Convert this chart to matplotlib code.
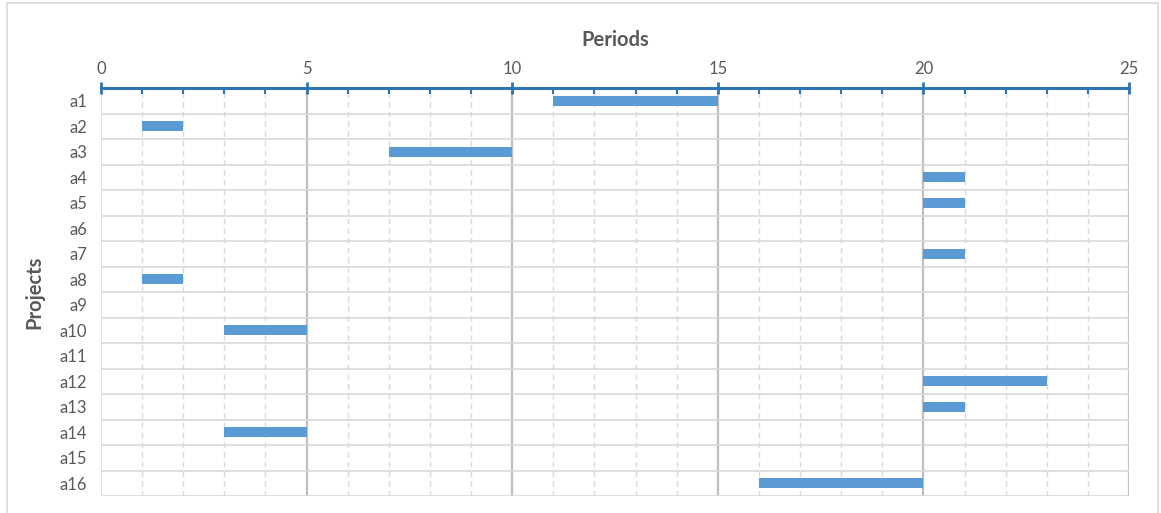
import matplotlib.pyplot as plt
from matplotlib.patches import Rectangle

plt.rcParams['font.family'] = ['Lato', 'DejaVu Sans']

# project names and their start / end periods (None = no bar)
projects = ['a1', 'a2', 'a3', 'a4', 'a5', 'a6', 'a7', 'a8',
            'a9', 'a10', 'a11', 'a12', 'a13', 'a14', 'a15', 'a16']
starts = [11, 1, 7, 20, 20, None, 20, 1, None, 3, None, 20, 20, 3, None, 16]
ends = [15, 2, 10, 21, 21, None, 21, 2, None, 5, None, 23, 21, 5, None, 20]

major_ticks = [0, 5, 10, 15, 20, 25]

text_col = '#595959'
bar_col = '#5b9bd5'
axis_col = '#2e75b6'

fig = plt.figure(figsize=(11.61, 5.13), dpi=100)
ax = fig.add_axes([101 / 1161, 1 - 496 / 513, 1028 / 1161, 408 / 513])

# outer chart border
fig.patches.append(Rectangle((6.5 / 1161, -0.01), 1151 / 1161, 1 - 2.5 / 513 + 0.01,
                             transform=fig.transFigure, fill=False,
                             edgecolor='#d9d9d9', linewidth=1.2))

n = len(projects)
ypos = list(range(n))

# gridlines
for i in range(1, 26):
    if i % 5 == 0:
        ax.axvline(i, color='#bfbfbf', linewidth=1.6, zorder=1)
    else:
        ax.axvline(i, color='#d9d9d9', linewidth=1, linestyle=(0, (4, 3)), zorder=1)
for k in range(n + 1):
    ax.axhline(k - 0.5, color='#d9d9d9', linewidth=1.2, zorder=1)
ax.axvline(0, color='#d9d9d9', linewidth=1.2, zorder=1)

# bars
for y, s, e in zip(ypos, starts, ends):
    if s is None:
        continue
    ax.barh(y, e - s, left=s, height=0.4, color=bar_col, zorder=3)

ax.set_xlim(0, 25)
ax.set_ylim(n - 0.5, -0.5)

ax.xaxis.tick_top()
ax.xaxis.set_label_position('top')
ax.set_xticks(major_ticks)
ax.set_xticks(range(26), minor=True)
ax.tick_params(axis='x', which='major', direction='inout', length=8, width=2,
               color=axis_col, labelsize=12, labelcolor=text_col, pad=4)
ax.tick_params(axis='x', which='minor', direction='in', length=4, width=1.5,
               color=axis_col)

ax.set_yticks(ypos)
ax.set_yticklabels(projects)
ax.tick_params(axis='y', length=0, labelsize=12, labelcolor=text_col, pad=10)

for side in ['right', 'bottom', 'left']:
    ax.spines[side].set_visible(False)
ax.spines['top'].set_color(axis_col)
ax.spines['top'].set_linewidth(2.2)
ax.spines['top'].set_zorder(4)

ax.set_xlabel('Periods', fontsize=14.5, fontweight='bold', color=text_col, labelpad=11)
ax.set_ylabel('Projects', fontsize=14.5, fontweight='bold', color=text_col, labelpad=11)

fig.savefig('out.png', dpi=100)
